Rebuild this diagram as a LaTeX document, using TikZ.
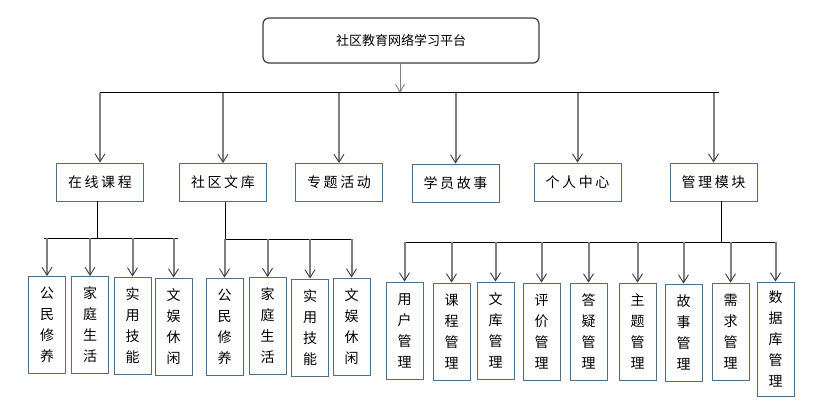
\documentclass[tikz,border=0pt]{standalone}
\usepackage{fontspec}
\usetikzlibrary{arrows.meta}
\newfontfamily\cjk{Noto Sans CJK SC}
\newfontfamily\cjksp{Noto Sans CJK SC}[LetterSpace=18]
\definecolor{boxc}{HTML}{4F6F86}
\definecolor{arrc}{HTML}{7F7F7F}
\definecolor{topc}{HTML}{3C3C3C}
\tikzset{
  topbox/.style={draw=topc,line width=1.2pt,rounded corners=6pt,minimum width=276pt,minimum height=45pt,inner sep=0pt,font=\cjk\fontsize{13}{15}\selectfont},
  lvbox/.style={draw=boxc,line width=0.9pt,fill=white,minimum width=87pt,minimum height=38pt,inner sep=0pt,font=\cjksp\fontsize{14}{16}\selectfont},
  subbox/.style={draw=boxc,line width=0.9pt,fill=white,minimum width=37pt,minimum height=97pt,inner sep=0pt,align=center,font=\cjk\fontsize{14}{21}\selectfont},
  arr/.style={draw=arrc,line width=2pt,-{Straight Barb[length=8pt,width=10pt,line width=0.9pt,color=topc]}},
  thinarr/.style={draw=arrc,line width=0.9pt,-{Straight Barb[length=8pt,width=9pt,line width=0.8pt,color=arrc]}},
  bar/.style={draw=black,line width=1pt}
}
\begin{document}
\begin{tikzpicture}[x=1pt,y=-1pt]
\useasboundingbox[fill=white] (0,0) rectangle (816,406);
% top
\node[topbox] (root) at (401,40.5) {社区教育网络学习平台};
% level 1
\node[lvbox] (ol) at (100,182) {在线课程};
\node[lvbox] (cl) at (223,182.5) {社区文库};
\node[lvbox] (zt) at (339,182.5) {专题活动};
\node[lvbox] (xy) at (455.5,183) {学员故事};
\node[lvbox] (gr) at (577.5,182) {个人中心};
\node[lvbox] (gl) at (713.5,182) {管理模块};
% level 2
\node[subbox] (ol1) at (47,325) {公\\民\\修\\养};
\node[subbox] (ol2) at (90,325) {家\\庭\\生\\活};
\node[subbox] (ol3) at (132.5,325.5) {实\\用\\技\\能};
\node[subbox] (ol4) at (173.5,326.5) {文\\娱\\休\\闲};
\node[subbox] (cl1) at (224.5,326.5) {公\\民\\修\\养};
\node[subbox] (cl2) at (267.5,326) {家\\庭\\生\\活};
\node[subbox] (cl3) at (310,327.5) {实\\用\\技\\能};
\node[subbox] (cl4) at (351.5,326.5) {文\\娱\\休\\闲};
\node[subbox] (m1) at (404.5,330.5) {用\\户\\管\\理};
\node[subbox] (m2) at (451.5,331.5) {课\\程\\管\\理};
\node[subbox] (m3) at (495.5,330.5) {文\\库\\管\\理};
\node[subbox] (m4) at (541.5,331.5) {评\\价\\管\\理};
\node[subbox] (m5) at (588.5,331.5) {答\\疑\\管\\理};
\node[subbox] (m6) at (637.5,331.5) {主\\题\\管\\理};
\node[subbox] (m7) at (683.5,332.5) {故\\事\\管\\理};
\node[subbox] (m8) at (730.5,331.5) {需\\求\\管\\理};
\node[subbox,minimum height=114pt] (m9) at (775.5,339) {数\\据\\库\\管\\理};
% top bar
\coordinate (tb) at (400,93);
\coordinate (tbl) at (100,93);
\coordinate (tbr) at (719,93);
\draw[thinarr] (root.south -| tb) -- (tb);
\draw[bar] (tbl) -- (tbr);
\foreach \n in {ol,cl,zt,xy,gr,gl}{
  \draw[arr] (\n.north |- tb) -- (\n.north);
}
% online courses
\coordinate (olb) at (97,238);
\coordinate (olbl) at (44,238);
\coordinate (olbr) at (178,238);
\draw[bar] (ol.south -| olb) -- (olb);
\draw[bar] (olbl) -- (olbr);
\foreach \n in {ol1,ol2,ol3,ol4}{
  \draw[arr] (\n.north |- olb) -- (\n.north);
}
% community library
\coordinate (clb) at (225,239);
\coordinate (clbr) at (352,239);
\draw[bar] (cl.south -| clb) -- (clb);
\draw[bar] (clb) -- (clbr);
\foreach \n in {cl1,cl2,cl3,cl4}{
  \draw[arr] (\n.north |- clb) -- (\n.north);
}
% management
\coordinate (glb) at (721,242);
\coordinate (glbl) at (405,242);
\coordinate (glbr) at (775.5,242);
\draw[bar] (gl.south -| glb) -- (glb);
\draw[bar] (glbl) -- (glbr);
\foreach \n in {m1,m2,m3,m4,m5,m6,m7,m8,m9}{
  \draw[arr] (\n.north |- glb) -- (\n.north);
}
\end{tikzpicture}
\end{document}
